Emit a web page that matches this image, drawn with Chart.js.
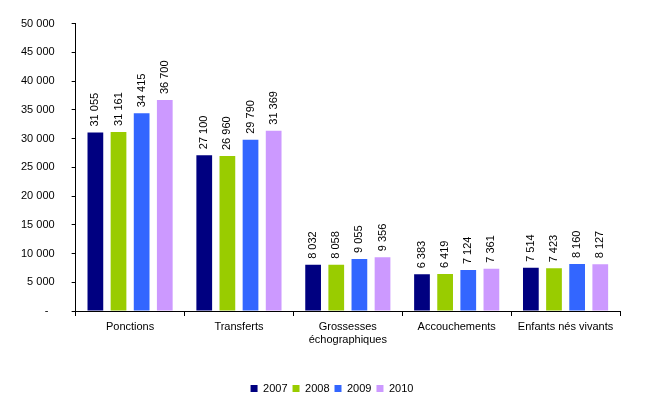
<!DOCTYPE html>
<html>
<head>
<meta charset="utf-8">
<script src="https://cdn.jsdelivr.net/npm/chart.js@4/dist/chart.umd.min.js"></script>
<style>
  html, body { margin: 0; padding: 0; background: #fff; }
  #wrap { width: 670px; height: 408px; }
</style>
</head>
<body>
<div id="wrap"><canvas id="myChart"></canvas></div>
<script>
'use strict';

// ******** DATA **********

let categories = ['Ponctions', 'Transferts', ['Grossesses', 'échographiques'], 'Accouchements', 'Enfants nés vivants'];
let years = ['2007', '2008', '2009', '2010'];
let values2007 = [31055, 27100, 8032, 6383, 7514];
let values2008 = [31161, 26960, 8058, 6419, 7423];
let values2009 = [34415, 29790, 9055, 7124, 8160];
let values2010 = [36700, 31369, 9356, 7361, 8127];
let yTicks = [0, 5000, 10000, 15000, 20000, 25000, 30000, 35000, 40000, 45000, 50000];

let colors = ['#000080', '#99cc00', '#3366ff', '#cc99ff'];

// ******** HELPERS **********

function formatNumber(n) {
  return String(n).replace(/\B(?=(\d{3})+(?!\d))/g, ' ');
}

// vertical value labels above each bar
let barLabels = {
  id: 'barLabels',
  afterDatasetsDraw(chart) {
    let ctx = chart.ctx;
    ctx.save();
    ctx.font = '11px "Liberation Sans", Arial, sans-serif';
    ctx.fillStyle = '#000';
    ctx.textAlign = 'left';
    ctx.textBaseline = 'middle';
    chart.data.datasets.forEach(function (ds, i) {
      let meta = chart.getDatasetMeta(i);
      meta.data.forEach(function (bar, j) {
        ctx.save();
        ctx.translate(bar.x, bar.y - 6);
        ctx.rotate(-Math.PI / 2);
        ctx.fillText(formatNumber(ds.data[j]), 0, 0);
        ctx.restore();
      });
    });
    ctx.restore();
  }
};

// nudge the legend a bit to the right, like the original
let legendShift = {
  id: 'legendShift',
  afterLayout(chart) {
    if (chart.legend) {
      chart.legend.left += 20;
      chart.legend.right += 20;
    }
  }
};

// ******** CHART **********

let ctx = document.getElementById('myChart').getContext('2d');

let allValues = [values2007, values2008, values2009, values2010];
let datasets = [];
for (let i = 0; i < years.length; i++) {
  datasets.push({
    label: years[i],
    data: allValues[i],
    backgroundColor: colors[i],
    borderWidth: 0,
    categoryPercentage: 0.85,
    barPercentage: 0.68
  });
}

Chart.defaults.font.family = '"Liberation Sans", Arial, sans-serif';
Chart.defaults.font.size = 11;
Chart.defaults.color = '#000';

new Chart(ctx, {
  type: 'bar',
  data: {
    labels: categories,
    datasets: datasets
  },
  options: {
    responsive: true,
    maintainAspectRatio: false,
    animation: false,
    layout: {
      padding: { left: 4, right: 50, top: 23, bottom: 4 }
    },
    plugins: {
      legend: {
        position: 'bottom',
        labels: {
          boxWidth: 7,
          boxHeight: 7,
          padding: 5,
          font: { size: 11 }
        }
      },
      tooltip: { enabled: false }
    },
    scales: {
      x: {
        grid: {
          drawOnChartArea: false,
          drawTicks: true,
          tickLength: 5,
          color: '#000'
        },
        border: { color: '#000', width: 1 },
        ticks: {
          padding: 4,
          maxRotation: 0,
          autoSkip: false
        },
        afterFit: function (scale) {
          scale.height = 67;
        }
      },
      y: {
        min: 0,
        max: 50000,
        afterBuildTicks: function (scale) {
          scale.ticks = yTicks.map(function (v) { return { value: v }; });
        },
        grid: {
          drawOnChartArea: false,
          drawTicks: true,
          tickLength: 4,
          color: '#000'
        },
        border: { color: '#000', width: 1 },
        ticks: {
          padding: 17,
          callback: function (v) {
            return v === 0 ? '-  ' : formatNumber(v);
          }
        }
      }
    }
  },
  plugins: [barLabels, legendShift]
});
</script>
</body>
</html>
